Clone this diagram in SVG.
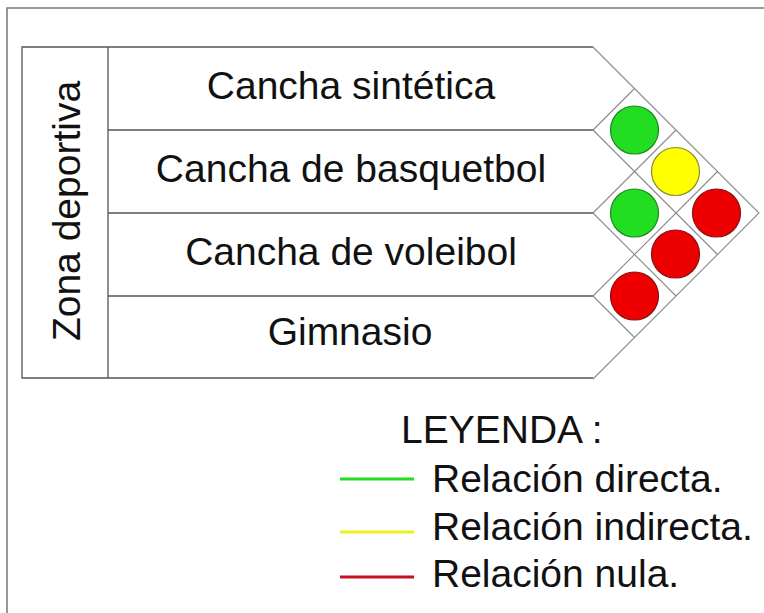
<svg xmlns="http://www.w3.org/2000/svg" width="764" height="613" viewBox="0 0 764 613">
<style>
.t{font-family:"Liberation Sans",Arial,sans-serif;fill:#111;font-size:39px}
.m{text-anchor:middle}
.box{fill:none;stroke:#555;stroke-width:1.3}
.grid{fill:none;stroke:#8a8a8a;stroke-width:1.1}
.g{fill:#22dd22;stroke:#1a8a1a;stroke-width:1.2}
.y{fill:#ffff00;stroke:#8a8a2a;stroke-width:1.2}
.r{fill:#ee0000;stroke:#8a1010;stroke-width:1.2}
</style>
<rect width="764" height="613" fill="#fff"/>
<path d="M7,613 V8 H764" fill="none" stroke="#777" stroke-width="1.5"/>
<g id="frame">
<path class="box" d="M593,47 H22 V378 H593"/>
<line class="box" x1="108" y1="47" x2="108" y2="378"/>
<path class="box" d="M108,130 H593 M108,213 H593 M108,296 H593"/>
</g>
<g id="zona">
<text class="t m" transform="translate(80,211) rotate(-90)" font-size="40">Zona deportiva</text>
</g>
<g id="row1"><text class="t m" x="351" y="99">Cancha sintética</text></g>
<g id="row2"><text class="t m" x="351" y="182">Cancha de basquetbol</text></g>
<g id="row3"><text class="t m" x="351" y="265">Cancha de voleibol</text></g>
<g id="row4"><text class="t m" x="350" y="345">Gimnasio</text></g>
<g id="connectors">
<path class="grid" d="M593,47 L759,213 L593,379"/>
<path class="grid" d="M593,130 L717.5,254.5 M593,213 L676,296 M593,296 L634.5,337.5"/>
<path class="grid" d="M593,130 L634.5,88.5 M593,213 L676,130 M593,296 L717.5,171.5"/>
</g>
<g id="c12"><circle class="g" cx="634.5" cy="130" r="24"/></g>
<g id="c23"><circle class="g" cx="634.5" cy="213" r="24"/></g>
<g id="c34"><circle class="r" cx="634.5" cy="296" r="24"/></g>
<g id="c13"><circle class="y" cx="675.5" cy="171.5" r="24"/></g>
<g id="c24"><circle class="r" cx="675.5" cy="254" r="24"/></g>
<g id="c14"><circle class="r" cx="716.5" cy="213" r="24"/></g>
<g id="legend">
<text class="t" x="401" y="443">LEYENDA :</text>
<line x1="340" y1="479" x2="414" y2="479" stroke="#22dd22" stroke-width="3"/>
<text class="t" x="432" y="492">Relación directa.</text>
<line x1="340" y1="532" x2="414" y2="532" stroke="#f0f020" stroke-width="3"/>
<text class="t" x="432" y="540">Relación indirecta.</text>
<line x1="340" y1="577" x2="414" y2="577" stroke="#c81020" stroke-width="3"/>
<text class="t" x="432" y="587">Relación nula.</text>
</g>
</svg>
